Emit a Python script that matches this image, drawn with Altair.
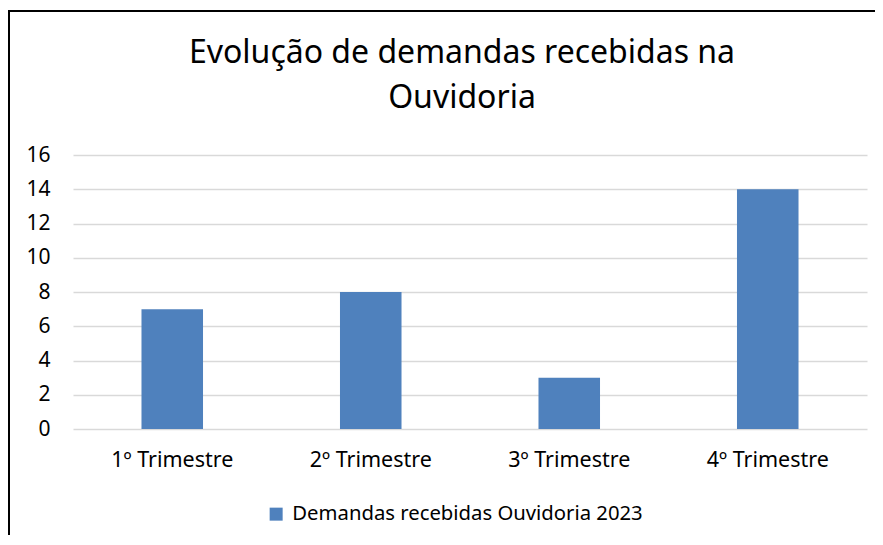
import altair as alt
import pandas as pd

categories = ["1º Trimestre", "2º Trimestre", "3º Trimestre", "4º Trimestre"]
values = [7, 8, 3, 14]
series_name = "Demandas recebidas Ouvidoria 2023"
title_lines = ["Evolução de demandas recebidas na", "Ouvidoria"]
y_ticks = [0, 2, 4, 6, 8, 10, 12, 14, 16]

FONT = "Noto Sans"
df = pd.DataFrame({"trimestre": categories, "valor": values, "serie": [series_name] * len(categories)})

W, H = 794, 274

bars = alt.Chart(df).mark_bar(color="#4F81BD").encode(
    x=alt.X("trimestre:N", sort=categories,
            scale=alt.Scale(paddingInner=0.69, paddingOuter=0.345),
            axis=alt.Axis(title=None, labelAngle=0, domain=False, ticks=False,
                          labelPadding=20, labelFont=FONT, labelFontSize=21.5,
                          labelColor="#000000")),
    y=alt.Y("valor:Q", scale=alt.Scale(domain=[0, 16], nice=False),
            axis=alt.Axis(title=None, values=y_ticks, domain=False, ticks=False,
                          labelPadding=23, labelFont=FONT, labelFontSize=21,
                          labelColor="#000000", gridColor="#d9d9d9", gridWidth=1.3)),
    color=alt.Color("serie:N", scale=alt.Scale(range=["#4F81BD"]),
                    legend=alt.Legend(title=None, orient="none", legendX=193, legendY=349,
                                      symbolType="square", symbolSize=169,
                                      symbolStrokeWidth=0, labelFont=FONT,
                                      labelFontSize=20.3, labelColor="#000000",
                                      labelOffset=6, padding=0, labelLimit=0)),
)

tdf = pd.DataFrame({"t": title_lines, "ypos": [-92, -47]})
title = alt.Chart(tdf).mark_text(font=FONT, fontSize=32, color="#000000",
                                 baseline="alphabetic", align="center").encode(
    text="t:N",
    x=alt.value(389),
    y=alt.Y("ypos:Q", scale=None),
)

border = alt.Chart(pd.DataFrame({"a": [0]})).mark_rect(
    fill=None, stroke="#000000", strokeWidth=2, clip=False).encode(
    x=alt.value(-64), x2=alt.value(950), y=alt.value(-144), y2=alt.value(600))

chart = alt.layer(border, bars, title).properties(
    width=W, height=H,
    autosize=alt.AutoSizeParams(type="none"),
    padding={"left": 65, "top": 147, "right": 8, "bottom": 106},
).configure(background="white", view=alt.ViewConfig(stroke=None))

chart.save("out.html", embed_options={"renderer": "svg", "actions": False})
